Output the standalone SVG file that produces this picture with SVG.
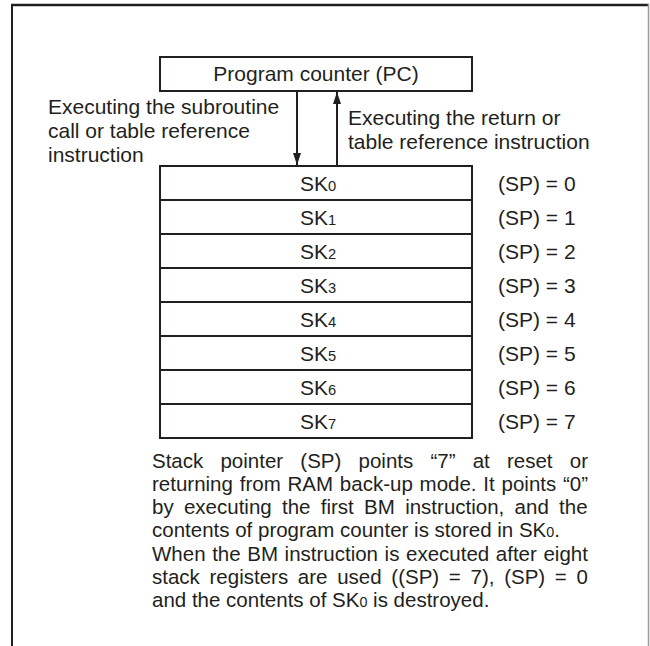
<svg xmlns="http://www.w3.org/2000/svg" width="650" height="646" viewBox="0 0 650 646">
<defs>
<style>
text{font-family:"Liberation Sans",Arial,Helvetica,sans-serif;fill:#231f20;font-size:21px}
.box{fill:#fff;stroke:#231f20;stroke-width:2}
.conn{stroke:#231f20;stroke-width:2;fill:none}
.para{font-size:20.5px}
.sub{font-size:70%}
</style>
<marker id="ah" viewBox="0 0 10 10" refX="10" refY="5" markerWidth="12" markerHeight="8" markerUnits="userSpaceOnUse" orient="auto" preserveAspectRatio="none">
<path d="M0,0 L10,5 L0,10 Z" fill="#231f20"/>
</marker>
</defs>
<rect x="0" y="0" width="650" height="646" fill="#fff"/>
<g id="frame">
<line x1="11" y1="5" x2="649" y2="5" stroke="#231f20" stroke-width="2.5"/>
<line x1="12" y1="4" x2="12" y2="646" stroke="#231f20" stroke-width="2"/>
<line x1="648.5" y1="4" x2="648.5" y2="646" stroke="#9a9a9a" stroke-width="1.5"/>
</g>
<g id="pc">
<rect class="box" x="160" y="57" width="312" height="34"/>
<text x="316" y="81" text-anchor="middle">Program counter (PC)</text>
</g>
<g id="connectors">
<line class="conn" x1="297" y1="91" x2="297" y2="165" marker-end="url(#ah)"/>
<line class="conn" x1="337" y1="166" x2="337" y2="92" marker-end="url(#ah)"/>
</g>
<g id="label-call">
<text x="48" y="114">Executing the subroutine</text>
<text x="48" y="138">call or table reference</text>
<text x="48" y="162">instruction</text>
</g>
<g id="label-return">
<text x="348" y="125">Executing the return or</text>
<text x="348" y="149">table reference instruction</text>
</g>
<g id="stack">
<g id="sk0"><rect class="box" x="160" y="166" width="312" height="34"/><text x="300" y="191">SK<tspan class="sub">0</tspan></text><text x="498" y="191">(SP) = 0</text></g>
<g id="sk1"><rect class="box" x="160" y="200" width="312" height="34"/><text x="300" y="225">SK<tspan class="sub">1</tspan></text><text x="498" y="225">(SP) = 1</text></g>
<g id="sk2"><rect class="box" x="160" y="234" width="312" height="34"/><text x="300" y="259">SK<tspan class="sub">2</tspan></text><text x="498" y="259">(SP) = 2</text></g>
<g id="sk3"><rect class="box" x="160" y="268" width="312" height="34"/><text x="300" y="293">SK<tspan class="sub">3</tspan></text><text x="498" y="293">(SP) = 3</text></g>
<g id="sk4"><rect class="box" x="160" y="302" width="312" height="34"/><text x="300" y="327">SK<tspan class="sub">4</tspan></text><text x="498" y="327">(SP) = 4</text></g>
<g id="sk5"><rect class="box" x="160" y="336" width="312" height="34"/><text x="300" y="361">SK<tspan class="sub">5</tspan></text><text x="498" y="361">(SP) = 5</text></g>
<g id="sk6"><rect class="box" x="160" y="370" width="312" height="34"/><text x="300" y="395">SK<tspan class="sub">6</tspan></text><text x="498" y="395">(SP) = 6</text></g>
<g id="sk7"><rect class="box" x="160" y="404" width="312" height="34"/><text x="300" y="429">SK<tspan class="sub">7</tspan></text><text x="498" y="429">(SP) = 7</text></g>
</g>
<g id="note" class="para">
<text class="para" x="152" y="468" style="word-spacing:11.5px">Stack pointer (SP) points “7” at reset or</text>
<text class="para" x="152" y="491" style="word-spacing:1.1px">returning from RAM back-up mode. It points “0”</text>
<text class="para" x="152" y="514" style="word-spacing:4.6px">by executing the first BM instruction, and the</text>
<text class="para" x="152" y="537">contents of program counter is stored in SK<tspan class="sub">0</tspan>.</text>
<text class="para" x="152" y="561" style="word-spacing:0.9px">When the BM instruction is executed after eight</text>
<text class="para" x="152" y="584" style="word-spacing:4px">stack registers are used ((SP) = 7), (SP) = 0</text>
<text class="para" x="152" y="607">and the contents of SK<tspan class="sub">0</tspan> is destroyed.</text>
</g>
</svg>
